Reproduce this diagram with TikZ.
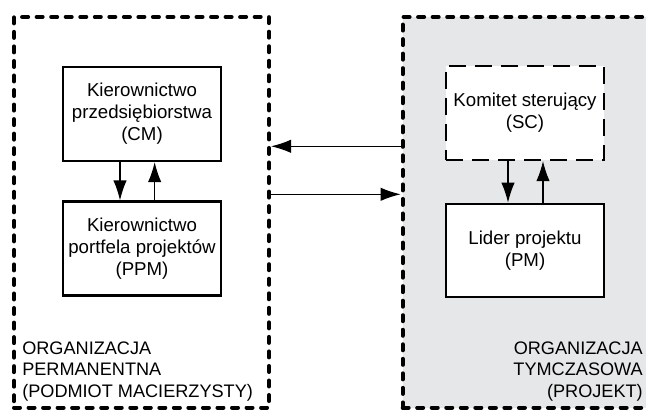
\documentclass[tikz,border=0pt]{standalone}
\usepackage{fontspec}
\setmainfont{Liberation Sans}
\usetikzlibrary{positioning,arrows.meta}
\definecolor{projgrey}{RGB}{230,231,232}

\tikzset{
  unit/.style={draw,line width=1.6pt,fill=white,minimum width=118.5pt,minimum height=70.5pt,
    align=center,font=\fontsize{14}{16.5}\selectfont},
  committee/.style={unit,dash pattern=on 12.5pt off 7pt},
  orgframe/.style={draw,line width=3pt,line cap=round,dash pattern=on 4.5pt off 6.4pt,
    minimum width=191.25pt,minimum height=293pt},
  orglabel/.style={inner sep=0pt,font=\fontsize{13.6}{16.2}\selectfont},
  flow/.style={line width=0.9pt,-{Latex[length=15pt,width=10pt]}}
}

\begin{document}
\begin{tikzpicture}[x=0.75pt,y=0.75pt,node distance=100.9pt,on grid]
  \useasboundingbox (0,0) rectangle (646,410);
  % two organisations
  \node[orgframe] (Perm) at (141.5,197.7) {};
  \node[orgframe,fill=projgrey,minimum width=194pt] (Temp) at (532,197.7) {};
  % permanent organisation
  \node[unit] (CM) at (142,296) {Kierownictwo\\przedsiębiorstwa\\(CM)};
  \node[unit] (PPM) [below=of CM] {Kierownictwo\\portfela projektów\\(PPM)};
  % temporary organisation
  \node[committee] (SC) at (525,297) {Komitet sterujący\\(SC)};
  \node[unit,minimum height=70pt] (PM) [below=103.1pt of SC] {Lider projektu\\(PM)};
  \node[orglabel,anchor=south west,align=left] (PermLbl) at (22,8.6)
    {ORGANIZACJA\\PERMANENTNA\\(PODMIOT MACIERZYSTY)};
  \node[orglabel,anchor=south east,align=right] (TempLbl) at (643,8.6)
    {ORGANIZACJA\\TYMCZASOWA\\(PROJEKT)};
  % connectors
  \draw[flow] ([xshift=-16.5pt]CM.south) -- ([xshift=-16.5pt]PPM.north);
  \draw[flow] ([xshift=9.5pt]PPM.north) -- ([xshift=9.5pt]CM.south);
  \draw[flow] ([xshift=-12.75pt]SC.south) -- ([xshift=-12.75pt]PM.north);
  \draw[flow] ([xshift=13.5pt]PM.north) -- ([xshift=13.5pt]SC.south);
  \draw[flow] ([yshift=49.5pt]Temp.west) -- ([yshift=49.5pt]Perm.east);
  \draw[flow] ([yshift=13.5pt]Perm.east) -- ([yshift=13.5pt]Temp.west);
\end{tikzpicture}
\end{document}
